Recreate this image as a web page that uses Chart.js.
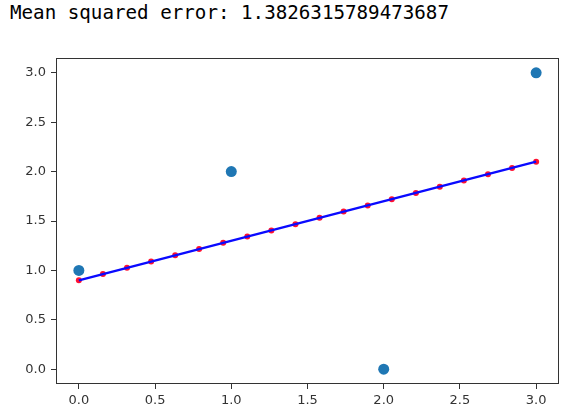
<!DOCTYPE html>
<html>
<head>
<meta charset="utf-8">
<script src="https://cdn.jsdelivr.net/npm/chart.js@4/dist/chart.umd.min.js"></script>
<style>
  html, body { margin: 0; padding: 0; background: #fff; }
  #wrap { position: relative; width: 577px; height: 418px; }
  #msg { position: absolute; left: 10px; top: 1px; font-family: "DejaVu Sans Mono", "Liberation Mono", monospace; font-size: 19.2px; color: #000; white-space: pre; }
  canvas { position: absolute; left: 0; top: 0; }
</style>
</head>
<body>
<div id="wrap">
  <div id="msg">Mean squared error: 1.3826315789473687</div>
  <canvas id="myChart" width="577" height="418"></canvas>
</div>
<script>
// observed points
var X_data = [0, 1, 2, 3]
var Y_data = [1, 2, 0, 3]

// fitted line points
var X_fit = [0, 0.158, 0.316, 0.474, 0.632, 0.789, 0.947, 1.105, 1.263, 1.421,
             1.579, 1.737, 1.895, 2.053, 2.211, 2.368, 2.526, 2.684, 2.842, 3.0]
var Y_fit = [0.9, 0.963, 1.026, 1.089, 1.153, 1.216, 1.279, 1.342, 1.405, 1.468,
             1.532, 1.595, 1.658, 1.721, 1.784, 1.847, 1.911, 1.974, 2.037, 2.1]

var xTicks = [0, 0.5, 1, 1.5, 2, 2.5, 3]
var yTicks = [0, 0.5, 1, 1.5, 2, 2.5, 3]

function pts(xs, ys) {
    return xs.map(function (x, i) { return { x: x, y: ys[i] } })
}

var framePlugin = {
    id: 'frame',
    afterDatasetsDraw: function (chart) {
        var a = chart.chartArea
        var c = chart.ctx
        c.save()
        c.strokeStyle = '#333'
        c.lineWidth = 1
        c.strokeRect(a.left + 0.5, a.top + 0.5, a.right - a.left - 1, a.bottom - a.top - 1)
        c.restore()
    }
}

var tickFont = { family: 'DejaVu Sans', size: 13 }

var ctx = document.getElementById('myChart')
var myChart = new Chart(ctx, {
    type: 'scatter',
    data: {
        datasets: [{
            label: 'data',
            data: pts(X_data, Y_data),
            backgroundColor: '#1f77b4',
            borderColor: '#1f77b4',
            pointRadius: 5.5,
            borderWidth: 0,
            order: 0
        },
        {
            label: 'line',
            type: 'line',
            data: pts(X_fit, Y_fit),
            borderColor: '#0a0aff',
            backgroundColor: '#0a0aff',
            borderWidth: 2.3,
            pointRadius: 0,
            showLine: true,
            fill: false,
            order: 1
        },
        {
            label: 'fit points',
            data: pts(X_fit, Y_fit),
            backgroundColor: '#ff1030',
            borderColor: '#ff1030',
            pointRadius: 3,
            borderWidth: 0,
            order: 2
        }]
    },
    options: {
        responsive: false,
        animation: false,
        layout: { padding: { left: 0, right: 18, top: 58, bottom: 0 } },
        plugins: { legend: { display: false }, tooltip: { enabled: false } },
        scales: {
            x: {
                type: 'linear',
                min: -0.15,
                max: 3.15,
                afterBuildTicks: function (s) { s.ticks = xTicks.map(function (v) { return { value: v } }) },
                afterFit: function (s) { s.height = 34 },
                grid: { drawOnChartArea: false, drawTicks: true, tickLength: 5, color: '#333' },
                border: { display: false },
                ticks: { font: tickFont, color: '#333', padding: 4, maxRotation: 0,
                         callback: function (v) { return v.toFixed(1) } }
            },
            y: {
                type: 'linear',
                min: -0.15,
                max: 3.15,
                afterBuildTicks: function (s) { s.ticks = yTicks.map(function (v) { return { value: v } }) },
                afterFit: function (s) { s.width = 56 },
                grid: { drawOnChartArea: false, drawTicks: true, tickLength: 5, color: '#333' },
                border: { display: false },
                ticks: { font: tickFont, color: '#333', padding: 5,
                         callback: function (v) { return v.toFixed(1) } }
            }
        }
    },
    plugins: [framePlugin]
});
</script>
</body>
</html>
